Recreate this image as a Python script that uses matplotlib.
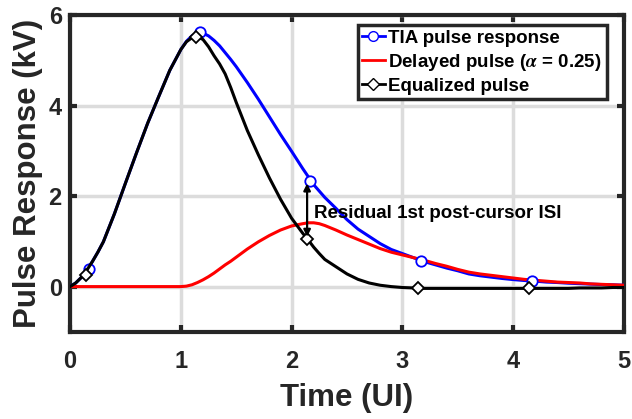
import matplotlib
matplotlib.use("Agg")
import numpy as np
from matplotlib import pyplot as plt
from matplotlib.lines import Line2D

plt.rcParams['font.family'] = ['Liberation Sans', 'DejaVu Sans']
plt.rcParams['font.weight'] = 'bold'
plt.rcParams['mathtext.fontset'] = 'stix'

# time axis (UI)
t = [0.0, 0.05, 0.1, 0.15, 0.2, 0.25, 0.3, 0.4, 0.5, 0.6, 0.7, 0.8, 0.9,
     1.0, 1.05, 1.1, 1.15, 1.2, 1.25, 1.3, 1.35, 1.4, 1.45, 1.5, 1.6, 1.7, 1.8, 1.9,
     2.0, 2.1, 2.15, 2.2, 2.25, 2.3, 2.4, 2.5, 2.6, 2.7, 2.8, 2.9,
     3.0, 3.1, 3.2, 3.3, 3.4, 3.5, 3.6, 3.7, 3.8, 3.9,
     4.0, 4.1, 4.2, 4.3, 4.4, 4.5, 4.6, 4.7, 4.8, 4.9, 5.0]

tia = [0.00, 0.08, 0.20, 0.36, 0.55, 0.76, 0.99, 1.61, 2.29, 2.96, 3.61, 4.20, 4.78,
       5.24, 5.42, 5.54, 5.60, 5.60, 5.54, 5.44, 5.32, 5.17, 5.02, 4.86, 4.51, 4.14, 3.75, 3.36,
       2.99, 2.61, 2.43, 2.25, 2.11, 1.97, 1.73, 1.48, 1.27, 1.11, 0.95, 0.82,
       0.73, 0.64, 0.55, 0.48, 0.41, 0.35, 0.28, 0.24, 0.21, 0.18,
       0.155, 0.135, 0.12, 0.10, 0.09, 0.075, 0.065, 0.055, 0.045, 0.04, 0.03]

delayed = [0.00, 0.00, 0.00, 0.00, 0.00, 0.00, 0.00, 0.00, 0.00, 0.00, 0.00, 0.00, 0.00,
           0.00, 0.01, 0.04, 0.09, 0.15, 0.22, 0.30, 0.39, 0.48, 0.56, 0.65, 0.83, 0.99, 1.13, 1.25,
           1.34, 1.39, 1.41, 1.41, 1.39, 1.35, 1.25, 1.14, 1.04, 0.94, 0.84, 0.76,
           0.70, 0.64, 0.58, 0.51, 0.45, 0.38, 0.32, 0.28, 0.25, 0.22,
           0.19, 0.16, 0.14, 0.12, 0.10, 0.09, 0.08, 0.06, 0.05, 0.04, 0.03]

equalized = [0.00, 0.08, 0.20, 0.36, 0.55, 0.76, 0.99, 1.61, 2.29, 2.96, 3.61, 4.20, 4.78,
             5.24, 5.41, 5.50, 5.52, 5.46, 5.30, 5.10, 4.92, 4.70, 4.40, 4.07, 3.45, 2.91, 2.40, 1.93,
             1.51, 1.18, 1.03, 0.87, 0.73, 0.60, 0.44, 0.28, 0.16, 0.08, 0.03, 0.00,
             -0.02, -0.03, -0.04, -0.04, -0.04, -0.04, -0.04, -0.04, -0.04, -0.04,
             -0.04, -0.04, -0.04, -0.04, -0.04, -0.04, -0.03, -0.03, -0.03, -0.02, -0.02]

# cursor samples
tia_mark_t = [0.17, 1.17, 2.17, 3.17, 4.17]
tia_mark_v = [0.38, 5.62, 2.34, 0.56, 0.12]
eq_mark_t = [0.14, 1.14, 2.14, 3.14, 4.14]
eq_mark_v = [0.25, 5.52, 1.05, -0.04, -0.04]

labels = ['TIA pulse response', r'Delayed pulse ($\alpha$ = 0.25)', 'Equalized pulse']

dark = '#262626'

fig = plt.figure(figsize=(6.32, 4.19), dpi=100)
ax = fig.add_axes([0.111, 0.208, 0.876, 0.756])

ax.plot(t, tia, color='#0000ff', lw=2.2, zorder=3, solid_joinstyle='round')
ax.plot(tia_mark_t, tia_mark_v, ls='none', marker='o', ms=7.5, mfc='white',
        mec='#0000ff', mew=1.3, zorder=4)
ax.plot(t, delayed, color='#ff0000', lw=2.2, zorder=3, solid_joinstyle='round')
ax.plot(t, equalized, color='black', lw=2.2, zorder=5, solid_joinstyle='round')
ax.plot(eq_mark_t, eq_mark_v, ls='none', marker='D', ms=6.5, mfc='white',
        mec='black', mew=1.3, zorder=6)

ax.annotate('', xy=(2.14, 1.1), xytext=(2.14, 2.28),
            arrowprops=dict(arrowstyle='<|-|>', color='black', lw=1.6,
                            mutation_scale=10, shrinkA=0, shrinkB=0), zorder=7)
ax.text(2.2, 1.62, 'Residual 1st post-cursor ISI', fontsize=13.5, fontweight='bold',
        color='black', ha='left', va='center', zorder=8)

ax.set_xlim(0, 5)
ax.set_ylim(-1, 6)
ax.set_xticks([0, 1, 2, 3, 4, 5])
ax.set_yticks([0, 2, 4, 6])
ax.grid(True, color='#dcdcdc', lw=2.5)
ax.set_axisbelow(True)
for s in ax.spines.values():
    s.set_linewidth(3)
    s.set_color(dark)
ax.tick_params(direction='in', length=5, width=3, color=dark, labelcolor=dark,
               labelsize=17, top=True, right=True)
ax.tick_params(axis='x', pad=13)
ax.tick_params(axis='y', pad=6)
for lab in ax.get_xticklabels() + ax.get_yticklabels():
    lab.set_fontweight('bold')
ax.set_xlabel('Time (UI)', fontsize=22.5, fontweight='bold', color=dark, labelpad=7)
ax.set_ylabel('Pulse Response (kV)', fontsize=22.5, fontweight='bold', color=dark, labelpad=4)

handles = [Line2D([], [], color='#0000ff', lw=2, marker='o', ms=7, mfc='white', mec='#0000ff'),
           Line2D([], [], color='#ff0000', lw=2),
           Line2D([], [], color='black', lw=2, marker='D', ms=6, mfc='white', mec='black')]
leg = ax.legend(handles, labels, loc='upper right', bbox_to_anchor=(0.969, 0.968),
                handlelength=1.2, handletextpad=0.2, labelspacing=0.25,
                borderpad=0.25, borderaxespad=0, fancybox=False, framealpha=1,
                edgecolor=dark, prop={'weight': 'bold', 'size': 13.5})
leg.get_frame().set_linewidth(2.5)

fig.savefig('out.png', dpi=100)
